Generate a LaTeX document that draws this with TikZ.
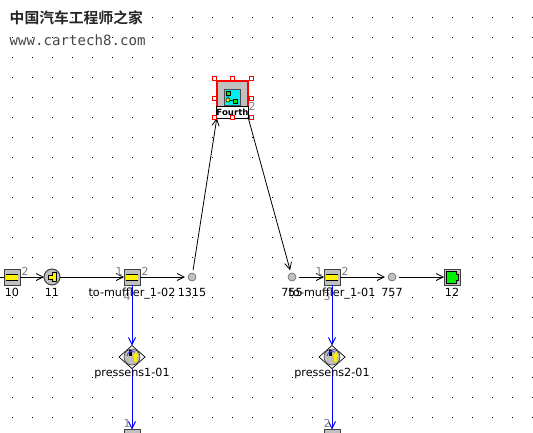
\documentclass[tikz,border=0pt]{standalone}
\usepackage{fontspec}
\setmainfont{DejaVu Sans}
\newfontfamily\cjkfont{Noto Sans CJK SC Bold}
\newfontfamily\wmfont{DejaVu Sans Mono}
\usetikzlibrary{arrows.meta,shapes.geometric}
\definecolor{icongrey}{RGB}{192,192,192}
\definecolor{numgrey}{RGB}{128,128,128}
\definecolor{wmgrey}{RGB}{70,70,70}
\definecolor{brightcyan}{RGB}{0,240,240}
\definecolor{brightgreen}{RGB}{0,240,0}
\tikzset{
  pipebox/.style={draw=black!75,line width=1pt,fill=icongrey,minimum size=16pt,inner sep=0,outer sep=0},
  smalldot/.style={circle,draw=black!60,line width=.6pt,fill=icongrey,minimum size=8pt,inner sep=0,outer sep=0},
  joint/.style={circle,draw=black!75,line width=1pt,fill=icongrey,minimum size=16pt,inner sep=0,outer sep=0},
  sensorshape/.style={diamond,draw=black,fill=white,line width=.7pt,minimum width=26pt,minimum height=23pt,inner sep=0,outer sep=0},
  link/.style={-{Straight Barb[length=7pt,width=7pt]},line width=.8pt,black},
  bluelink/.style={-{Straight Barb[length=7pt,width=7pt]},line width=1pt,blue},
  lab/.style={font=\fontsize{11.2}{12}\selectfont,inner sep=0,text=black,anchor=base},
  num/.style={font=\fontsize{11}{11}\selectfont,inner sep=0,text=numgrey},
  handle/.style={draw=red,fill=white,line width=1pt,minimum size=4pt,inner sep=0},
}
\newcommand{\pipeicon}[3]{%
  \node[pipebox] (#1) at (#2,#3) {};
  \fill[yellow] (#2-6,#3-3) rectangle (#2+6,#3+3);
  \draw[black,line width=.8pt] (#2-6,#3-3) -- (#2+6,#3-3) (#2-6,#3+3) -- (#2+6,#3+3);
}
\newcommand{\sensoricon}[3]{%
  \node[sensorshape] (#1) at (#2,#3) {};
  \fill[icongrey,draw=black!70,line width=.7pt] (#2,#3) circle [radius=8pt];
  \fill[black] (#2-3,#3-7) rectangle (#2,#3-1);
  \draw[blue!70,line width=1pt] (#2-5,#3-1) arc [start angle=180,end angle=40,radius=5pt];
  \fill[yellow,draw=black!40,line width=.2pt] (#2+1.5,#3+5) -- (#2+1.5,#3) -- (#2-.5,#3) -- (#2+4,#3-6) -- (#2+7,#3) -- (#2+5,#3) -- (#2+5,#3+5) -- cycle;
}
\begin{document}
\begin{tikzpicture}[x=1pt,y=-1pt]
\useasboundingbox (0,0) rectangle (533,432);
\clip (0,0) rectangle (533,432);
\fill[white] (0,0) rectangle (533,432);
% grid of dots
\foreach \i in {0,...,26}{\foreach \j in {0,...,20}{
  \fill[black] (12+20*\i-.5,17+20*\j-.5) rectangle +(1,1);
}}
% watermark
\node[anchor=west,inner sep=0,font=\cjkfont\fontsize{14.8}{15}\selectfont,text=black!85] (wm1) at (9.5,18) {中国汽车工程师之家};
\node[anchor=west,inner sep=0,font=\wmfont\fontsize{14.1}{15}\selectfont,text=wmgrey] (wm2) at (9.5,40) {www.cartech8.com};
\coordinate (in) at (-2,277);
% icons
\pipeicon{n10}{12}{277}
\node[joint] (n11) at (52,277) {};
\fill[yellow,draw=black,line width=.5pt] (48,275) -- (52,275) -- (52,272.5) -- (56,272.5) -- (56,281.5) -- (52,281.5) -- (52,279) -- (48,279) -- cycle;
\pipeicon{m2}{132}{277}
\node[smalldot] (n1315) at (192,277) {};
\node[smalldot] (n755) at (292,277) {};
\pipeicon{m1}{332}{277}
\node[smalldot] (n757) at (392,277) {};
\node[pipebox] (n12) at (452,277) {};
\fill[brightgreen,draw=black,line width=.5pt] (446,271) -- (456,271) -- (456,274) -- (458,274) -- (458,280) -- (456,280) -- (456,283) -- (446,283) -- cycle;
\sensoricon{s1}{132}{357}
\sensoricon{s2}{332}{357}
\node[pipebox,anchor=north] (b1) at (132,429.5) {};
\node[pipebox,anchor=north] (b2) at (332,429.5) {};
% subsystem icon
\node[draw=red,line width=1.6pt,fill=icongrey,minimum width=31pt,minimum height=36pt,inner sep=0,outer sep=0] (sub) at (232.5,99) {};
\fill[brightcyan,draw=black!70,line width=.8pt] (224,89) rectangle (240,105);
\draw[black,line width=.7pt] (228,93) -- (228,100) -- (235,101);
\fill[brightgreen,draw=black,line width=.5pt] (226,91.5) rectangle (230,95.5);
\fill[brightgreen,draw=black,line width=.5pt] (233,99) rectangle (237,103);
\fill[yellow,draw=black,line width=.5pt] (228,100) circle [radius=2pt];
\node[draw=black,fill=white,line width=.7pt,minimum width=27pt,minimum height=11.5pt,inner sep=0,anchor=north,font=\bfseries\fontsize{8.6}{9}\selectfont] (subl) at (232.5,106.3) {Fourth};
% connectors
\draw[line width=.8pt] (in) -- (n10);
\draw[link] (n10) -- (n11);
\draw[link] (n11) -- (m2);
\draw[link,shorten >=3pt] (m2) -- (n1315);
\draw[link,shorten <=3pt,shorten >=1pt] (n1315) -- (sub.south west);
\draw[link,shorten >=3pt] (sub.south east) -- (n755);
\draw[link,shorten <=3pt] (n755) -- (m1);
\draw[link,shorten >=3pt] (m1) -- (n757);
\draw[link,shorten <=3pt] (n757) -- (n12);
\draw[bluelink] (m2) -- (s1);
\draw[bluelink] (m1) -- (s2);
\draw[bluelink] (s1) -- (b1);
\draw[bluelink] (s2) -- (b2);
% selection handles
\foreach \hx/\hy/\hn in {214/78/a,232.5/78/b,251/78/c,214/98/d,251/98/e,214/117/f,232.5/117/g,251/117/h}{
  \node[handle] (h\hn) at (\hx,\hy) {};
}
% port numbers
\node[num] (p1) at (25,271) {2};
\node[num] (p2) at (119,271) {1};
\node[num] (p3) at (145,271) {2};
\node[num] (p4) at (127,296) {4};
\node[num] (p5) at (319,271) {1};
\node[num] (p6) at (345,271) {2};
\node[num] (p7) at (327,296) {3};
\node[num] (p8) at (252,106) {2};
\node[num] (p9) at (127,423) {1};
\node[num] (p10) at (327,423) {2};
% labels
\node[lab] (l10) at (12,296) {10};
\node[lab] (l11) at (52,296) {11};
\node[lab] (l1) at (132,296) {to-muffler\_1-02};
\node[lab] (l2) at (192,296) {1315};
\node[lab] (l3) at (292,296) {755};
\node[lab] (l4) at (332,296) {to-muffler\_1-01};
\node[lab] (l5) at (392,296) {757};
\node[lab] (l6) at (452,296) {12};
\node[lab] (l7) at (132,376) {pressens1-01};
\node[lab] (l8) at (332,376) {pressens2-01};
\end{tikzpicture}
\end{document}
